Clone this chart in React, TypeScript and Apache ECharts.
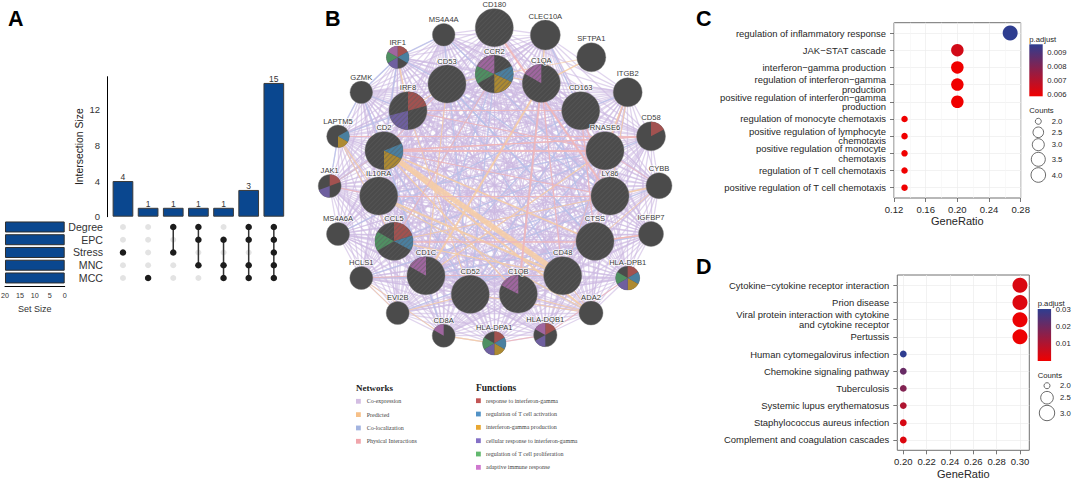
import React, { useEffect, useRef } from "react";
import * as echarts from "echarts";

/* ---------- Panel A: UpSet ---------- */
const setNames = ["Degree", "EPC", "Stress", "MNC", "MCC"];
const setSizes = [20, 20, 20, 20, 20];
const intersectionSizes = [4, 1, 1, 1, 1, 3, 15];
const intersectionMembers = [[2], [4], [0, 2], [0, 1, 3], [1, 3, 4], [0, 1, 3, 4], [0, 1, 2, 3, 4]];
const upsetTicks = [0, 4, 8, 12];
const setSizeTicks = [0, 5, 10, 15, 20];

/* ---------- Panel B: gene network ---------- */
const geneNames = ["CD180","MS4A4A","CLEC10A","SFTPA1","IRF1","CCR2","CD53","C1QA","GZMK","ITGB2","CD163","IRF8","LAPTM5","CD2","CD58","RNASE6","JAK1","IL10RA","LY86","CYBB","MS4A6A","CCL5","CTSS","IGFBP7","HCLS1","CD1C","HLA-DPB1","CD48","CD52","C1QB","EVI2B","ADA2","CD8A","HLA-DQB1","HLA-DPA1"];
const geneX = [494.3,443.7,545.3,591.3,397.7,494.3,447,541.3,361.3,627.7,580.7,408,338,384,651,605,329.7,378.7,610,659,338,394,595,651,361.3,426,627.7,562.7,470.3,518.3,397.7,591,443.7,545.3,494.3];
const geneY = [27.7,34.7,35,57.3,57.3,74,84,83.3,92.3,92.3,110.7,110.7,136.3,150.7,136.3,150.7,186,196,196,185.7,234,241.3,241.3,234,278,275.7,278,275.7,294.3,294,313,313,335.7,335,343.3];
const geneSize = [19,11.3,15,14.5,11.3,19,19,19,11.3,14.5,19,19,11.3,19,14.5,19,11.5,19,19,13,11.5,19,19,12.5,11.5,19,12,19,19,19,11.5,12,11.5,11.7,11.7];
// gene -> [function index, start degree, end degree], clockwise from twelve o'clock
const geneFunctions: Record<string, number[][]> = {
  IRF1: [[0,0,60],[1,60,120],[3,180,240],[4,240,300],[5,300,360]],
  CCR2: [[1,65,115],[2,115,180],[4,240,295],[5,295,360]],
  C1QA: [[5,300,360]],
  IRF8: [[0,0,75],[3,180,255]],
  LAPTM5: [[1,60,120],[2,120,180]],
  CD2: [[1,68,115],[2,115,180]],
  CD58: [[0,0,62]],
  JAK1: [[0,0,70],[3,180,250]],
  CCL5: [[0,0,72],[1,72,118],[4,240,300]],
  CD1C: [[5,300,360]],
  "HLA-DPB1": [[0,0,60],[1,60,120],[2,120,180],[3,180,240],[4,240,300]],
  C1QB: [[5,297,360]],
  CD8A: [[5,300,360]],
  "HLA-DQB1": [[0,0,60],[3,180,240],[5,300,360]],
  "HLA-DPA1": [[0,0,60],[1,60,120],[2,120,180],[3,180,240],[4,240,300]],
};
const notCoexpressed = ["SFTPA1"];
const colocalizationEdges = [["IRF1","GZMK"],["IRF1","CD2"],["IRF1","CD53"],["IRF1","MS4A4A"],["GZMK","CD2"],["GZMK","IRF8"],["GZMK","LAPTM5"],["CD53","CD48"],["CD53","LY86"],["CD53","CTSS"],["IRF8","LAPTM5"],["CLEC10A","CD163"],["CLEC10A","C1QB"],["MS4A4A","CD52"],["MS4A4A","LY86"],["ITGB2","CD163"],["ITGB2","CD48"],["JAK1","CD2"],["JAK1","LAPTM5"],["CD2","CD1C"],["CD2","CD52"],["IL10RA","CD48"],["IL10RA","RNASE6"],["CCR2","CD1C"],["CCR2","CD52"],["CCR2","CCL5"],["CD163","CD1C"],["CD163","CD52"],["RNASE6","CD52"],["CD58","CCL5"],["CYBB","CD1C"],["LY86","HCLS1"],["CTSS","C1QA"],["CTSS","CD53"],["MS4A6A","CD163"],["HCLS1","CD48"],["CD8A","CD2"],["EVI2B","CTSS"],["IGFBP7","CD1C"],["ADA2","IL10RA"]];
const predictedEdges: [string,string,number][] = [["CD2","CD48",5.5],["CD2","CTSS",1.6],["CD2","ADA2",1.8],["IL10RA","CD48",2.2],["CD2","C1QB",1.3],["C1QA","CD1C",2],["SFTPA1","C1QA",1.5],["SFTPA1","CD53",0.8],["ITGB2","RNASE6",1.4],["ITGB2","LY86",1],["CYBB","LY86",1.5],["CYBB","CTSS",1],["IRF1","IRF8",1.4],["LAPTM5","IL10RA",1.2],["LAPTM5","CCL5",1],["CD2","IL10RA",1.4],["EVI2B","CD52",1],["HCLS1","CD8A",1],["HCLS1","EVI2B",1],["HLA-DPA1","CD8A",1.2],["ADA2","CD48",1],["ADA2","C1QB",1],["ADA2","CD52",1],["CD53","IRF8",1],["CD53","CD1C",1],["C1QA","CCR2",1],["CLEC10A","C1QA",1.4],["CCL5","CD48",1.2],["RNASE6","CD1C",1.2],["LY86","CCL5",1],["CTSS","IGFBP7",1.2],["IRF8","CD52",1],["IL10RA","ADA2",1.2]];
const physicalEdges: [string,string,number][] = [["CD2","RNASE6",1.8],["LAPTM5","CD58",1.2],["IRF8","RNASE6",1],["C1QA","C1QB",2],["CD180","LY86",2.2],["CCL5","CTSS",1.6],["CTSS","IGFBP7",1.3],["JAK1","IL10RA",1.2],["JAK1","CD2",0.8],["IL10RA","LY86",1],["CD163","LY86",1.3],["RNASE6","CTSS",1],["CD2","LY86",1],["CD2","CD58",1.2],["HLA-DPA1","HLA-DQB1",1],["HLA-DPB1","HLA-DQB1",1],["CD1C","CD48",0.8],["CD163","CTSS",1.2],["C1QA","CD48",1.2],["IRF8","CD163",1],["CCR2","CCL5",1.1],["ITGB2","CD48",1],["CD58","CD2",1],["HCLS1","CD1C",1],["CYBB","RNASE6",0.8],["CD53","CD2",1]];
const networkNames = ["Co-expression","Predicted","Co-localization","Physical Interactions"];
const functionNames = ["response to interferon-gamma","regulation of T cell activation","interferon-gamma production","cellular response to interferon-gamma","regulation of T cell proliferation","adaptive immune response"];

/* ---------- Panel C ---------- */
const cTerms = ["regulation of inflammatory response","JAK\u2212STAT cascade","interferon\u2212gamma production","regulation of interferon\u2212gamma\nproduction","positive regulation of interferon\u2212gamma\nproduction","regulation of monocyte chemotaxis","positive regulation of lymphocyte\nchemotaxis","positive regulation of monocyte\nchemotaxis","regulation of T cell chemotaxis","positive regulation of T cell chemotaxis"];
const cRatios = [0.2667,0.2,0.2,0.2,0.2,0.1333,0.1333,0.1333,0.1333,0.1333];
const cCounts = [4,3,3,3,3,2,2,2,2,2];
const cPadj = [0.0095,0.0064,0.0058,0.0058,0.0058,0.0058,0.0058,0.0058,0.0058,0.0058];
const cColorTicks = ["0.009","0.008","0.007","0.006"];
const cCountTicks = ["2.0","2.5","3.0","3.5","4.0"];

/* ---------- Panel D ---------- */
const dTerms = ["Cytokine\u2212cytokine receptor interaction","Prion disease","Viral protein interaction with cytokine\nand cytokine receptor","Pertussis","Human cytomegalovirus infection","Chemokine signaling pathway","Tuberculosis","Systemic lupus erythematosus","Staphylococcus aureus infection","Complement and coagulation cascades"];
const dRatios = [0.3,0.3,0.3,0.3,0.2,0.2,0.2,0.2,0.2,0.2];
const dCounts = [3,3,3,3,2,2,2,2,2,2];
const dPadj = [0.0035,0.003,0.0008,0.0004,0.03,0.021,0.017,0.01,0.004,0.003];
const dRatioTicks = [0.2,0.22,0.24,0.26,0.28,0.3];
const dColorTicks = ["0.03","0.02","0.01"];
const dCountTicks = ["2.0","2.5","3.0"];
const rowTicks = [1,2,3,4,5,6,7,8,9,10];

const BLUE = "#0a478f";
const INK = "#262626";
const NODE = "#4b4b4b";
const HATCH = "#606060";
const FN_NODE = ["#a25250","#4a7f9f","#ad8a32","#6e5f9f","#4f8f62","#9f669f"];
const FN_LEGEND = ["#c25555","#5192c6","#e8a732","#8470c6","#62b86e","#cf78cf"];
const NET_LEGEND = ["#d3bde2","#f6c088","#a3b4e0","#f0a5ab"];
const RED_TO_BLUE = ["#f00000","#2e3d90"];

const sizeC: Record<number, number> = { 2: 6.5, 3: 12.5, 4: 15 };
const sizeD: Record<number, number> = { 2: 6.8, 3: 15 };

function edges() {
  const links: any[] = [];
  const push = (a: string, b: string, color: string, width: number, opacity: number) =>
    links.push({ source: a, target: b, lineStyle: { color, width, opacity, curveness: 0 } });
  geneNames.forEach((a, i) => {
    geneNames.slice(i + 1).forEach((b) => {
      if (notCoexpressed.includes(a) || notCoexpressed.includes(b)) return;
      push(a, b, "#cdb9e2", 1.3, 0.62);
    });
  });
  colocalizationEdges.forEach(([a, b]) => push(a, b, "#b7c2ea", 1.2, 0.8));
  predictedEdges.forEach(([a, b, w]) => push(a, b, "#f6cda5", w, 0.88));
  physicalEdges.forEach(([a, b, w]) => push(a, b, "#f0b6b8", w, 0.88));
  return links;
}

function renderGene(params: any, api: any) {
  const i = params.dataIndex;
  const c = api.coord([api.value(0), api.value(1)]);
  const r = api.size([api.value(2), 0])[0];
  const name = geneNames[i];
  const children: any[] = [
    { type: "circle", shape: { cx: c[0], cy: c[1], r }, style: { fill: NODE, stroke: "#777", lineWidth: 0.4 } },
  ];
  (geneFunctions[name] || []).forEach(([fn, a, b]) => {
    children.push({
      type: "sector",
      shape: { cx: c[0], cy: c[1], r, r0: 0, startAngle: ((a - 90) * Math.PI) / 180, endAngle: ((b - 90) * Math.PI) / 180, clockwise: true },
      style: { fill: FN_NODE[fn] },
    });
  });
  if (r > 16) {
    for (let d = -r + 1.5; d < r; d += 3.4) {
      const half = Math.sqrt(r * r - d * d) - 0.3;
      const px = c[0] + d * Math.SQRT1_2;
      const py = c[1] + d * Math.SQRT1_2;
      children.push({
        type: "line",
        shape: { x1: px - half * Math.SQRT1_2, y1: py + half * Math.SQRT1_2, x2: px + half * Math.SQRT1_2, y2: py - half * Math.SQRT1_2 },
        style: { stroke: HATCH, lineWidth: 1.1, opacity: 0.45 },
      });
    }
  }
  children.push({
    type: "text",
    style: { x: c[0], y: c[1] - r - 4, text: name, align: "center", verticalAlign: "middle", fontSize: 7.6, fontFamily: "Liberation Sans", fill: "#3a3a3a", stroke: "rgba(255,255,255,0.85)", lineWidth: 1.6 },
  });
  return { type: "group", children };
}

function txt(x: number, y: number, text: string, fontSize: number, extra: any = {}) {
  return { type: "text", x, y, style: { text, fontSize, fontFamily: "Liberation Sans", fill: INK, verticalAlign: "middle", ...extra } };
}

function colorBar(x: number, y: number, w: number, h: number) {
  return {
    type: "rect",
    shape: { x, y, width: w, height: h },
    style: { fill: new echarts.graphic.LinearGradient(0, 0, 0, 1, [{ offset: 0, color: RED_TO_BLUE[1] }, { offset: 1, color: RED_TO_BLUE[0] }]) },
  };
}

function ring(cx: number, cy: number, r: number) {
  return { type: "circle", shape: { cx, cy, r }, style: { fill: "#fff", stroke: "#444", lineWidth: 0.8 } };
}

function buildGraphics() {
  const g: any[] = [];
  const letter = { fontWeight: "bold", fill: "#000" };
  g.push(txt(8, 18.5, "A", 21.5, letter), txt(325, 18.5, "B", 21.5, letter), txt(696, 18.5, "C", 21.5, letter), txt(696, 267, "D", 21.5, letter));
  // network legend
  const serif = { fontFamily: "Liberation Serif", fill: "#444" };
  g.push(txt(356, 388, "Networks", 9, { ...serif, fontWeight: "bold", fill: "#222" }));
  g.push(txt(476, 387.5, "Functions", 9.5, { ...serif, fontWeight: "bold", fill: "#222" }));
  networkNames.forEach((n, i) => {
    const y = 401.3 + i * 13.33;
    g.push({ type: "rect", shape: { x: 356, y: y - 2.4, width: 4.8, height: 4.8 }, style: { fill: NET_LEGEND[i] } });
    g.push(txt(366.7, y, n, 6, serif));
  });
  functionNames.forEach((n, i) => {
    const y = 400.7 + i * 13.33;
    g.push({ type: "rect", shape: { x: 476, y: y - 2.4, width: 4.8, height: 4.8 }, style: { fill: FN_LEGEND[i] } });
    g.push(txt(486, y, n, 6, serif));
  });
  // panel C legend
  g.push(txt(1029.3, 39, "p.adjust", 7.7));
  g.push(colorBar(1029.3, 44.3, 13.4, 52));
  cColorTicks.forEach((t, i) => g.push(txt(1047.3, 52.7 + i * 13.8, t, 7.7)));
  g.push(txt(1029.3, 110.3, "Counts", 7.7));
  [[121.3, 3], [132.3, 5.3], [144.7, 6], [159.3, 7], [175, 7.3]].forEach(([y, r], i) => {
    g.push(ring(1038.3, y, r));
    g.push(txt(1051.7, y, cCountTicks[i], 7.7));
  });
  // panel D legend
  g.push(txt(1037.7, 303.5, "p.adjust", 7.7));
  g.push(colorBar(1037.7, 309, 13.4, 52));
  dColorTicks.forEach((t, i) => g.push(txt(1055.7, 309 + i * 17.35, t, 7.7)));
  g.push(txt(1037.7, 375, "Counts", 7.7));
  [[385.7, 3], [397.7, 6.3], [413, 7.7]].forEach(([y, r], i) => {
    g.push(ring(1047, y, r));
    g.push(txt(1060, y, dCountTicks[i], 7.7));
  });
  return g;
}

function dotColor(padj: number, lo: number, hi: number) {
  const t = Math.min(1, Math.max(0, (padj - lo) / (hi - lo)));
  return echarts.color.lerp(t, RED_TO_BLUE) as string;
}

function option() {
  const termAxis = (gridIndex: number, terms: string[]) => ({
    type: "value", gridIndex, inverse: true, min: 0.4, max: 10.6,
    axisTick: { customValues: rowTicks, length: 4, lineStyle: { color: "#555", width: 0.8 } },
    axisLine: { show: false },
    splitLine: { show: true, lineStyle: { color: "#ececec", width: 0.7 } },
    axisLabel: { customValues: rowTicks, formatter: (v: number) => terms[v - 1], fontSize: 9.45, lineHeight: 9.4, color: INK, margin: 8, align: "right" },
  });
  const free = { outerBoundsMode: "none" };
  const grids = [
    { ...free, left: 110.4, top: 76.7, width: 176, height: 140 },
    { ...free, left: 110.4, top: 220.6, width: 176, height: 63.75 },
    { ...free, left: 5, top: 220.6, width: 59.7, height: 63.75 },
    { ...free, left: 300, top: 0, width: 390, height: 479 },
    { ...free, left: 894, top: 22.7, width: 126.7, height: 175.3, show: true, borderColor: "#707070", borderWidth: 1, backgroundColor: "transparent" },
    { ...free, left: 897.3, top: 275, width: 132, height: 175.3, show: true, borderColor: "#707070", borderWidth: 1, backgroundColor: "transparent" },
  ];
  const colNames = intersectionSizes.map((_, i) => "c" + i);
  const geneData = geneNames.map((n, i) => [geneX[i], geneY[i], geneSize[i]]);
  const xAxes: any[] = [
    { type: "category", gridIndex: 0, data: colNames, show: false },
    { type: "category", gridIndex: 1, data: colNames, show: false },
    { type: "value", gridIndex: 2, inverse: true, min: 0, max: 20, offset: 2.3,
      axisTick: { customValues: setSizeTicks, length: 3, lineStyle: { color: "#000" } },
      axisLine: { show: true, lineStyle: { color: "#000" } }, splitLine: { show: false },
      axisLabel: { customValues: setSizeTicks, fontSize: 7.2, color: "#333", margin: 5 },
      name: "Set Size", nameLocation: "middle", nameGap: 18, nameTextStyle: { fontSize: 9, color: "#333" } },
    { type: "value", gridIndex: 3, min: 300, max: 690, show: false },
    { type: "value", gridIndex: 4, min: 0.12, max: 0.28, interval: 0.04,
      axisLine: { show: false }, axisTick: { length: 4, lineStyle: { color: "#555", width: 0.8 } },
      splitLine: { show: true, lineStyle: { color: "#ececec", width: 0.7 } },
      minorTick: { show: false, splitNumber: 2 }, minorSplitLine: { show: true, lineStyle: { color: "#f5f5f5", width: 0.6 } },
      axisLabel: { fontSize: 9.5, color: INK, margin: 6, formatter: (v: number) => v.toFixed(2) },
      name: "GeneRatio", nameLocation: "middle", nameGap: 17, nameTextStyle: { fontSize: 11, color: INK } },
    { type: "value", gridIndex: 5, min: 0.19486, max: 0.308,
      axisLine: { show: false }, axisTick: { customValues: dRatioTicks, length: 4, lineStyle: { color: "#555", width: 0.8 } },
      splitLine: { show: true, lineStyle: { color: "#ececec", width: 0.7 } },
      axisLabel: { customValues: dRatioTicks, fontSize: 9.5, color: INK, margin: 6, formatter: (v: number) => v.toFixed(2) },
      name: "GeneRatio", nameLocation: "middle", nameGap: 18, nameTextStyle: { fontSize: 11, color: INK } },
  ];
  const yAxes: any[] = [
    { type: "value", gridIndex: 0, min: 0, max: 15.7, offset: 3.4,
      axisTick: { customValues: upsetTicks, length: 4, lineStyle: { color: "#000" } },
      axisLine: { show: true, lineStyle: { color: "#000" } }, splitLine: { show: false },
      axisLabel: { customValues: upsetTicks, fontSize: 9.5, color: "#333", margin: 7 },
      name: "Intersection Size", nameLocation: "middle", nameGap: 23, nameTextStyle: { fontSize: 10.4, color: "#222" } },
    { type: "category", gridIndex: 1, inverse: true, data: setNames, axisLine: { show: false }, axisTick: { show: false },
      axisLabel: { fontSize: 10.6, color: "#333", margin: 7.4, interval: 0 } },
    { type: "category", gridIndex: 2, inverse: true, data: setNames, show: false },
    { type: "value", gridIndex: 3, min: 0, max: 479, inverse: true, show: false },
    termAxis(4, cTerms),
    termAxis(5, dTerms),
  ];
  const gray: number[][] = [];
  colNames.forEach((_, c) => setNames.forEach((_s, r) => gray.push([c, r])));
  const series: any[] = [
    { type: "bar", xAxisIndex: 0, yAxisIndex: 0, data: intersectionSizes, barWidth: 20.7,
      itemStyle: { color: BLUE, borderColor: "#3a3a3a", borderWidth: 1 },
      label: { show: true, position: "top", distance: 0, fontSize: 8.5, lineHeight: 8, color: "#333" } },
    { type: "scatter", xAxisIndex: 1, yAxisIndex: 1, data: gray, symbolSize: 6, itemStyle: { color: "#e3e3e3", opacity: 1 } },
    ...intersectionMembers.map((rows, c) => ({
      type: "line", xAxisIndex: 1, yAxisIndex: 1, data: rows.map((r) => [c, r]),
      symbol: "circle", symbolSize: 6.5, showSymbol: true, itemStyle: { color: "#1c1c1c" },
      lineStyle: { color: "#333", width: 1.5 },
    })),
    { type: "bar", xAxisIndex: 2, yAxisIndex: 2, data: setSizes, barWidth: 11,
      itemStyle: { color: BLUE, borderColor: "#2e2e2e", borderWidth: 1 } },
    { type: "graph", coordinateSystem: "cartesian2d", xAxisIndex: 3, yAxisIndex: 3, layout: "none", silent: true,
      symbol: "none", symbolSize: 0, label: { show: false }, edgeSymbol: ["none", "none"],
      data: geneNames.map((name, i) => ({ name, value: [geneX[i], geneY[i]] })), links: edges() },
    { type: "custom", xAxisIndex: 3, yAxisIndex: 3, data: geneData, renderItem: renderGene, silent: true, z: 5,
      encode: { x: 0, y: 1 }, clip: false },
    { type: "scatter", xAxisIndex: 4, yAxisIndex: 4, clip: false,
      data: cTerms.map((_, i) => [cRatios[i], i + 1, cCounts[i], cPadj[i]]),
      symbolSize: (v: number[]) => sizeC[v[2]],
      itemStyle: { opacity: 1, color: (p: any) => dotColor(p.value[3], 0.0058, 0.0095) } },
    { type: "scatter", xAxisIndex: 5, yAxisIndex: 5, clip: false,
      data: dTerms.map((_, i) => [dRatios[i], i + 1, dCounts[i], dPadj[i]]),
      symbolSize: (v: number[]) => sizeD[v[2]],
      itemStyle: { opacity: 1, color: (p: any) => dotColor(p.value[3], 0, 0.03) } },
  ];
  return {
    animation: false,
    backgroundColor: "#fff",
    textStyle: { fontFamily: "Liberation Sans" },
    grid: grids,
    xAxis: xAxes,
    yAxis: yAxes,
    series,
    graphic: { elements: buildGraphics() },
  };
}

export default function App() {
  const ref = useRef<HTMLDivElement | null>(null);
  useEffect(() => {
    document.body.style.margin = "0";
    const chart = echarts.init(ref.current as HTMLDivElement, undefined, { renderer: "svg" });
    chart.setOption(option() as any);
    return () => chart.dispose();
  }, []);
  return <div ref={ref} style={{ width: 1072, height: 479 }} />;
}
